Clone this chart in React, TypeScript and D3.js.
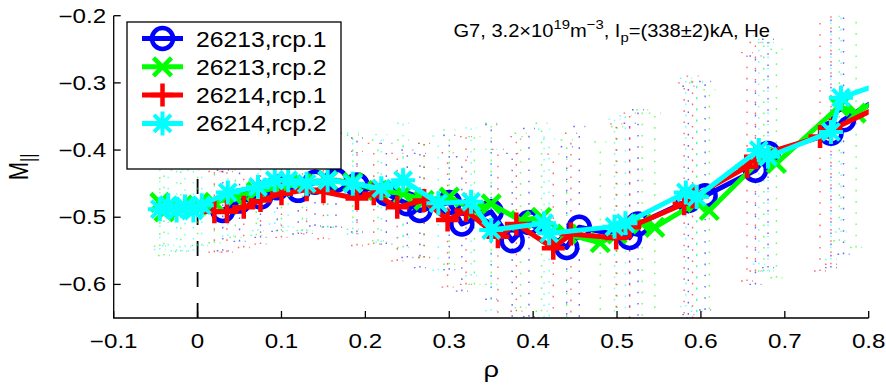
import React from "react";
import * as d3 from "d3";

const W = 886, H = 385;
const L = 113.7, R = 868.7, T = 15.7, B = 318;

const xTicks = [-0.1, 0, 0.1, 0.2, 0.3, 0.4, 0.5, 0.6, 0.7, 0.8];
const xTickLabels = ["\u22120.1", "0", "0.1", "0.2", "0.3", "0.4", "0.5", "0.6", "0.7", "0.8"];
const yTicks = [-0.6, -0.5, -0.4, -0.3, -0.2];
const yTickLabels = ["\u22120.6", "\u22120.5", "\u22120.4", "\u22120.3", "\u22120.2"];

const seriesNames = ["26213,rcp.1", "26213,rcp.2", "26214,rcp.1", "26214,rcp.2"];
const seriesColors = ["#0000ff", "#00ff00", "#ff0000", "#00ffff"];
const seriesMarkers = ["o", "x", "+", "*"];

const rhoBlue = [0.03, 0.05, 0.075, 0.095, 0.12, 0.14, 0.165, 0.19, 0.225, 0.25, 0.265, 0.3, 0.315, 0.35, 0.375, 0.395, 0.44, 0.455, 0.515, 0.525, 0.585, 0.605, 0.665, 0.68, 0.755, 0.77, 0.83];
const mBlue = [-0.49, -0.476, -0.47, -0.456, -0.46, -0.448, -0.445, -0.452, -0.465, -0.48, -0.49, -0.478, -0.51, -0.492, -0.535, -0.508, -0.545, -0.515, -0.53, -0.51, -0.475, -0.468, -0.43, -0.405, -0.375, -0.355, -0.31];
const eBlue = [0.06, 0.06, 0.06, 0.065, 0.065, 0.065, 0.07, 0.07, 0.075, 0.08, 0.085, 0.1, 0.1, 0.13, 0.13, 0.14, 0.15, 0.15, 0.17, 0.17, 0.17, 0.17, 0.17, 0.17, 0.2, 0.2, 0.2];

const rhoGreen = [-0.045, -0.04, -0.02, 0.0, 0.02, 0.045, 0.07, 0.1, 0.125, 0.155, 0.185, 0.215, 0.245, 0.27, 0.3, 0.33, 0.35, 0.385, 0.41, 0.44, 0.48, 0.5, 0.53, 0.545, 0.595, 0.61, 0.675, 0.69, 0.765, 0.785, 0.83];
const mGreen = [-0.478, -0.492, -0.486, -0.482, -0.478, -0.47, -0.462, -0.455, -0.45, -0.445, -0.448, -0.46, -0.465, -0.475, -0.47, -0.49, -0.48, -0.505, -0.5, -0.525, -0.538, -0.525, -0.51, -0.515, -0.478, -0.49, -0.41, -0.42, -0.335, -0.345, -0.31];
const eGreen = [0.065, 0.065, 0.065, 0.06, 0.06, 0.06, 0.065, 0.065, 0.07, 0.07, 0.07, 0.075, 0.08, 0.085, 0.1, 0.11, 0.12, 0.13, 0.14, 0.14, 0.15, 0.16, 0.17, 0.17, 0.18, 0.18, 0.17, 0.17, 0.2, 0.2, 0.2];

const rhoRed = [0.02, 0.035, 0.055, 0.075, 0.1, 0.13, 0.15, 0.19, 0.21, 0.238, 0.27, 0.298, 0.32, 0.358, 0.38, 0.424, 0.445, 0.499, 0.515, 0.58, 0.59, 0.655, 0.665, 0.742, 0.755, 0.83];
const mRed = [-0.492, -0.492, -0.485, -0.475, -0.465, -0.459, -0.462, -0.472, -0.465, -0.485, -0.475, -0.504, -0.49, -0.529, -0.51, -0.546, -0.525, -0.531, -0.515, -0.48, -0.47, -0.425, -0.41, -0.38, -0.37, -0.325];
const eRed = [0.06, 0.06, 0.06, 0.065, 0.065, 0.065, 0.07, 0.07, 0.075, 0.08, 0.085, 0.1, 0.11, 0.13, 0.13, 0.14, 0.15, 0.17, 0.17, 0.18, 0.18, 0.17, 0.17, 0.2, 0.2, 0.2];

const rhoCyan = [-0.045, -0.035, -0.025, -0.015, -0.005, 0.005, 0.036, 0.072, 0.092, 0.108, 0.13, 0.155, 0.185, 0.219, 0.245, 0.287, 0.326, 0.35, 0.413, 0.419, 0.497, 0.51, 0.582, 0.595, 0.669, 0.68, 0.755, 0.767, 0.84];
const mCyan = [-0.488, -0.482, -0.49, -0.484, -0.49, -0.482, -0.463, -0.455, -0.445, -0.445, -0.45, -0.445, -0.45, -0.457, -0.445, -0.479, -0.477, -0.519, -0.509, -0.524, -0.514, -0.509, -0.463, -0.47, -0.4, -0.41, -0.373, -0.322, -0.29];
const eCyan = [0.06, 0.06, 0.06, 0.06, 0.06, 0.06, 0.065, 0.065, 0.065, 0.07, 0.07, 0.07, 0.075, 0.08, 0.085, 0.1, 0.11, 0.12, 0.14, 0.14, 0.16, 0.16, 0.17, 0.17, 0.17, 0.17, 0.19, 0.2, 0.2];

const seriesRho = [rhoBlue, rhoGreen, rhoRed, rhoCyan];
const seriesM = [mBlue, mGreen, mRed, mCyan];
const seriesErr = [eBlue, eGreen, eRed, eCyan];

const FONT = "'Liberation Sans', Arial, Helvetica, sans-serif";

function Marker({ type, cx, cy, color }: { type: string; cx: number; cy: number; color: string }) {
  const sw = 4.5;
  if (type === "o") return <circle cx={cx} cy={cy} r={10.5} fill="none" stroke={color} strokeWidth={sw} />;
  if (type === "x") {
    const a = 9;
    return <path d={`M${cx - a},${cy - a}L${cx + a},${cy + a}M${cx - a},${cy + a}L${cx + a},${cy - a}`} stroke={color} strokeWidth={sw} />;
  }
  if (type === "+") {
    const a = 11.5;
    return <path d={`M${cx - a},${cy}L${cx + a},${cy}M${cx},${cy - a}L${cx},${cy + a}`} stroke={color} strokeWidth={sw} />;
  }
  const a = 12, b = 8.5;
  return <path d={`M${cx - a},${cy}L${cx + a},${cy}M${cx},${cy - a}L${cx},${cy + a}M${cx - b},${cy - b}L${cx + b},${cy + b}M${cx - b},${cy + b}L${cx + b},${cy - b}`} stroke={color} strokeWidth={4} />;
}

export default function App() {
  const x = d3.scaleLinear().domain([-0.1, 0.8]).range([L, R]);
  const y = d3.scaleLinear().domain([-0.65, -0.2]).range([B, T]);
  const line = d3.line<[number, number]>().x((d) => x(d[0])).y((d) => y(d[1]));

  const legX = 127, legY = 22, legW = 214, legH = 147;
  const legRow0 = 38.5, legStep = 28.3;
  const TS = 1.24; // horizontal stretch of tick text
  const LS = 1.15; // legend stretch
  const TTS = 1.1; // title stretch

  return (
    <svg width={W} height={H} style={{ position: "absolute", left: 0, top: 0, background: "#fff" }} fontFamily={FONT}>
      <defs>
        <clipPath id="plotclip">
          <rect x={L} y={T} width={R - L} height={B - T} />
        </clipPath>
      </defs>
      <rect x={0} y={0} width={W} height={H} fill="#fff" />

      {/* dashed line at rho = 0 */}
      <path d={`M${x(0)},${y(-0.65)}L${x(0)},${y(-0.2)}`} stroke="#000" strokeWidth={1.8} strokeDasharray="15,16" />

      <g clipPath="url(#plotclip)">
        {/* error bars */}
        {seriesRho.map((rhos, si) => (
          <g key={"e" + si} stroke={seriesColors[si]} strokeWidth={1.4} strokeDasharray="1.6,9.6" strokeOpacity={0.6} fill="none">
            {rhos.map((r, i) => {
              const cx = x(r);
              const m = seriesM[si][i];
              const e = seriesErr[si][i];
              const y1 = y(m + e), y2 = y(m - e);
              return (
                <path key={i} d={`M${cx},${y2}L${cx},${y1}M${cx - 6},${y1}L${cx + 6},${y1}M${cx - 6},${y2}L${cx + 6},${y2}`} />
              );
            })}
          </g>
        ))}
        {/* lines and markers */}
        {seriesRho.map((rhos, si) => {
          const pts: [number, number][] = rhos.map((r, i) => [r, seriesM[si][i]]);
          return (
            <g key={"s" + si}>
              <path d={line(pts) || ""} fill="none" stroke={seriesColors[si]} strokeWidth={5} strokeLinejoin="round" />
              {pts.map((p, i) => (
                <Marker key={i} type={seriesMarkers[si]} cx={x(p[0])} cy={y(p[1])} color={seriesColors[si]} />
              ))}
            </g>
          );
        })}
      </g>

      {/* axes */}
      <path d={`M${L},${T}L${L},${B}L${R},${B}`} fill="none" stroke="#000" strokeWidth={1.3} />
      {yTicks.map((t, i) => (
        <g key={"yt" + i}>
          <line x1={L} x2={L + 7} y1={y(t)} y2={y(t)} stroke="#000" strokeWidth={1.3} />
          <text transform={`translate(${L - 7.5},${y(t) + 7}) scale(${TS},1)`} textAnchor="end" fontSize={19.5}>{yTickLabels[i]}</text>
        </g>
      ))}
      {xTicks.map((t, i) => (
        <g key={"xt" + i}>
          <line x1={x(t)} x2={x(t)} y1={B} y2={B - 7} stroke="#000" strokeWidth={1.3} />
          <text transform={`translate(${x(t)},${B + 30}) scale(${TS},1)`} textAnchor="middle" fontSize={19.5}>{xTickLabels[i]}</text>
        </g>
      ))}

      {/* axis labels */}
      <text transform={`translate(${x(0.35)},${377}) scale(${TS},1)`} textAnchor="middle" fontSize={22}>ρ</text>
      <text transform={`translate(28,167) rotate(-90) scale(1,${TS})`} textAnchor="middle" fontSize={22}>
        M<tspan fontSize={16} dy={6}>||</tspan>
      </text>

      {/* title */}
      <text transform={`translate(770,37) scale(${TTS},1)`} textAnchor="end" fontSize={18.3}>
        G7, 3.2×10<tspan fontSize={13.5} dy={-8}>19</tspan><tspan dy={8}>m</tspan><tspan fontSize={13.5} dy={-8}>−3</tspan><tspan dy={8}>, I</tspan><tspan fontSize={13.5} dy={5}>p</tspan><tspan dy={-5}>=(338±2)kA, He</tspan>
      </text>

      {/* legend */}
      <rect x={legX} y={legY} width={legW} height={legH} fill="#fff" stroke="#000" strokeWidth={1.3} />
      {seriesNames.map((n, i) => {
        const cy = legRow0 + i * legStep;
        return (
          <g key={"lg" + i}>
            <line x1={142} x2={183} y1={cy} y2={cy} stroke={seriesColors[i]} strokeWidth={5} />
            <Marker type={seriesMarkers[i]} cx={162.5} cy={cy} color={seriesColors[i]} />
            <text transform={`translate(196,${cy + 8}) scale(${LS},1)`} fontSize={21.5}>{n}</text>
          </g>
        );
      })}
    </svg>
  );
}
